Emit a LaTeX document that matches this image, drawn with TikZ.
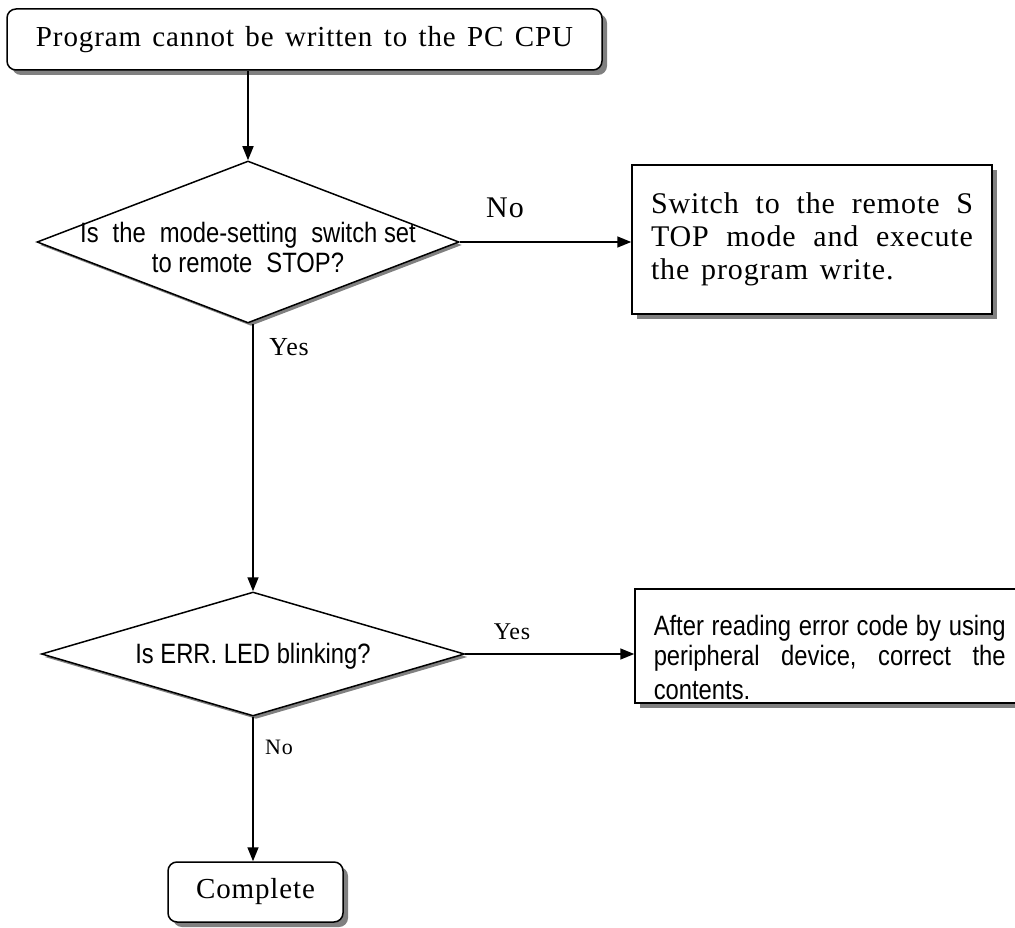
\documentclass[tikz,border=0pt]{standalone}
\usepackage{fontspec}
\setmainfont{Liberation Serif}[LetterSpace=3,WordSpace=1.4]
\newfontfamily\narrowsans[FakeStretch=0.85]{Liberation Sans}
\usetikzlibrary{shapes.geometric,shadows,arrows.meta}
\begin{document}
\begin{tikzpicture}[x=1pt,y=-1pt,line width=1.5pt,
 shade/.style={drop shadow={shadow xshift=5pt,shadow yshift=-5pt,fill=black!50,opacity=1}},
 term/.style={draw,rounded corners=9pt,fill=white,shade,inner sep=0pt},
 ask/.style={draw,diamond,fill=white,inner sep=0pt,drop shadow={shadow xshift=3pt,shadow yshift=-3pt,fill=black!50,opacity=1}},
 act/.style={draw,rectangle,fill=white,shade,inner sep=0pt},
 asktext/.style={align=center,font=\narrowsans\fontsize{28}{30}\selectfont},
 arr/.style={-{Triangle[length=14pt,width=11pt]}},
 tag/.style={font=\fontsize{#1}{#1}\selectfont}]
\useasboundingbox(0,0)rectangle(1015,928);\clip(0,0)rectangle(1015,928);
\node[term,minimum width=595pt,minimum height=61pt,font=\fontsize{29}{34}\selectfont](start)at(304.5,39.5){Program cannot be written to the PC CPU};
\node[ask,minimum width=422pt,minimum height=162pt](q1)at(248,242){};\node[asktext]at([yshift=-5pt]q1){Is\hspace{14pt}the\hspace{14pt}mode-setting\hspace{14pt}switch set\\to remote\hspace{14pt}STOP?};
\node[act,minimum width=360pt,minimum height=149pt,text width=322pt,align=justify,font=\fontsize{30}{33}\selectfont](act1)at(812,239.5){Switch to the remote S\linebreak TOP mode and execute\linebreak the program write.};
\node[ask,minimum width=423pt,minimum height=124pt](q2)at(253,654){};\node[asktext]at([yshift=-2pt]q2){Is ERR. LED blinking?};
\node[act,minimum width=400pt,minimum height=114pt](act2)at(835,646){};
\node[anchor=north west,inner sep=0pt,text width=352pt,align=justify,font=\narrowsans\fontsize{28}{30}\selectfont](act2text)at(653,614){After reading error code by using\linebreak peripheral\ \ device,\ \ correct\ \ the\vadjust{\vskip4pt}\linebreak contents.};
\node[term,minimum width=175pt,minimum height=60pt,font=\fontsize{29}{30}\selectfont](done)at(255.5,892){Complete};
\draw[arr](q1.north|-start.south)--(q1.north);\draw[arr](q1.east)--(q1.east-|act1.west);
\draw[arr](q2.north|-q1.south)--(q2.north);\draw[arr](q2.east)--(q2.east-|act2.west);\draw[arr](q2.south)--(q2.south|-done.north);
\node[tag=30](no1)at(505,208){No};\node[tag=26](yes1)at(289,347){Yes};\node[tag=24](yes2)at(512,632){Yes};\node[tag=22](no2)at(279,747){No};
\end{tikzpicture}
\end{document}
